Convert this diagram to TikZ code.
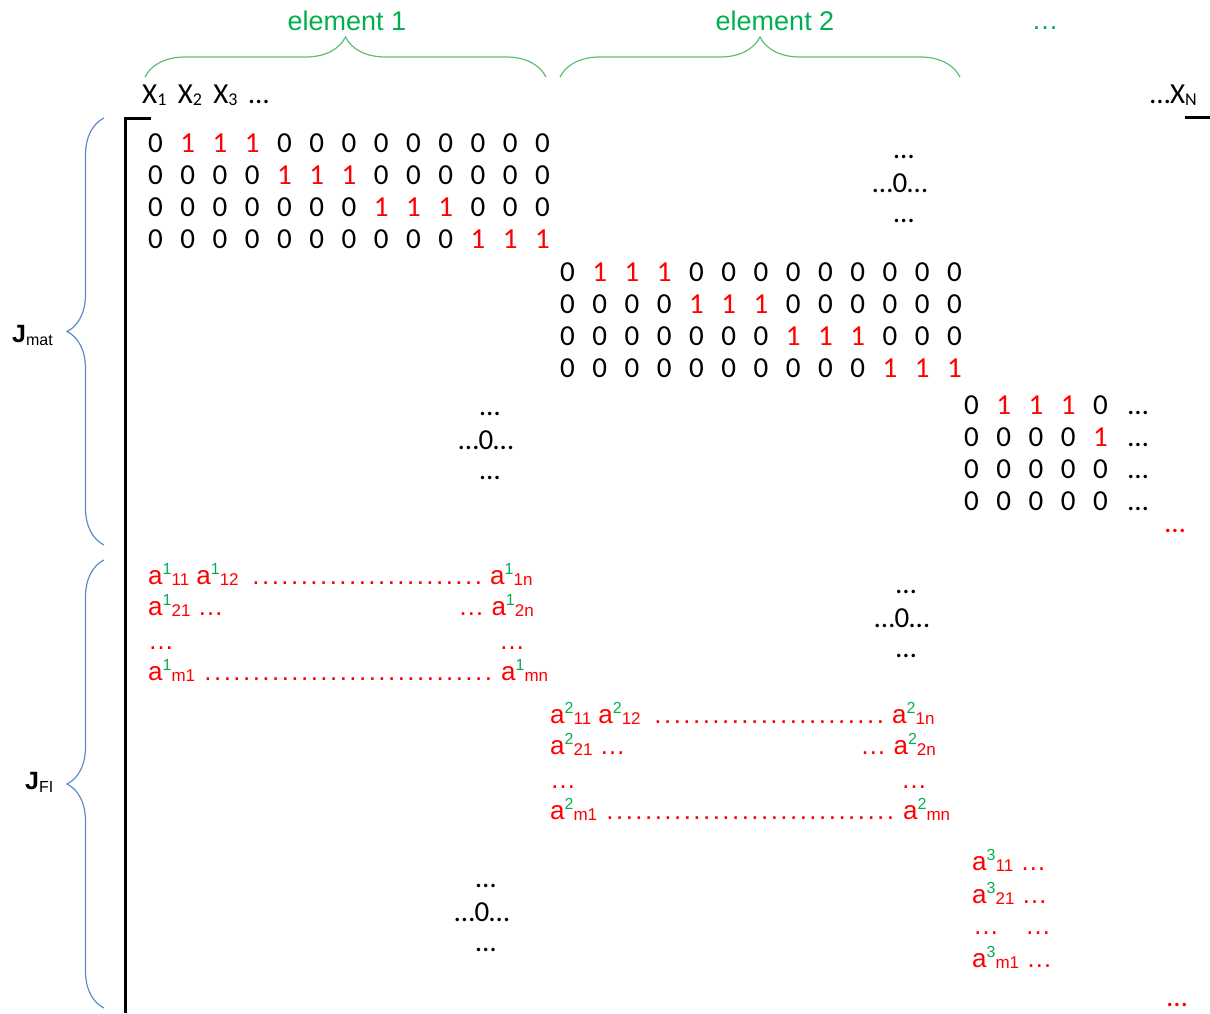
\documentclass[tikz,border=0pt]{standalone}
\usepackage{fontspec}
\setmainfont{Liberation Sans}
\newfontfamily\calib{Carlito}
\usetikzlibrary{decorations.pathreplacing}
\definecolor{onered}{RGB}{255,0,0}
\definecolor{elgreen}{RGB}{0,176,80}
\definecolor{bracegreen}{RGB}{96,190,112}
\definecolor{braceblue}{RGB}{96,138,200}
% a entry: green element index up, red position index down
\newcommand{\aij}[2]{a{\fontsize{16}{16}\selectfont\raisebox{10pt}{\textcolor{elgreen}{#1}}\fontsize{17}{17}\selectfont\raisebox{-1.5pt}{#2}}}
\newcommand{\xsub}[1]{X{\fontsize{18}{18}\selectfont\raisebox{-2.5pt}{#1}}}
\newcommand{\dotrun}[1]{\hbox to #1{\xleaders\hbox to 9.6pt{\hss.\hss}\hfill}}

\begin{document}
\begin{tikzpicture}[
            x=1pt, y=-1pt,
            dig/.style={font=\calib\fontsize{29}{29}\selectfont, anchor=base, inner sep=0pt},
            aent/.style={font=\fontsize{26}{26}\selectfont, text=onered, anchor=base west, inner sep=0pt},
            elabel/.style={font=\fontsize{27}{27}\selectfont, text=elgreen, anchor=base, inner sep=0pt},
            jlabel/.style={anchor=base west, inner sep=0pt},
            hbrace/.style={decorate, decoration={brace, amplitude=40pt}, draw=bracegreen, line width=1.2pt},
            vbrace/.style={decorate, decoration={brace, amplitude=37pt}, draw=braceblue, line width=1.2pt},
            axisline/.style={line width=3pt, line join=miter}
        ]
            \useasboundingbox (0,0) rectangle (1210,1013);

            % element headers
            \node[elabel] (el1) at (347,30) {element 1};
            \node[elabel] (el2) at (775,30) {element 2};
            \node[elabel] (elmore) at (1045,29) {…};
            \draw[hbrace] (145,77) -- (546,77);
            \draw[hbrace] (560,77) -- (960,77);

            % variables and axis
            \node[dig, anchor=base west] (xfirst) at (142,103) {\xsub{1}\, \xsub{2}\, \xsub{3}\, …};
            \node[dig, anchor=base east] (xlast) at (1197,103) {…\xsub{N}};
            \coordinate (axtop) at (125,118);
            \coordinate (axbot) at (125,1013);
            \draw[axisline] (151,118) -- (axtop) -- (axbot);
            \draw[axisline] (1185,117) -- (1210,117);

            % row groups
            \draw[vbrace] (104,545) -- (104,118);
            \draw[vbrace] (104,1008) -- (104,560);
            \node[jlabel] (jmat) at (12,342) {{\fontsize{25}{25}\selectfont\bfseries J}{\fontsize{16}{16}\selectfont\raisebox{-3pt}{mat}}};
            \node[jlabel] (jfi) at (25,789) {{\fontsize{25}{25}\selectfont\bfseries J}{\fontsize{16}{16}\selectfont\raisebox{-3pt}{FI}}};

            % material blocks
            \foreach \bx/\by/\bn/\nc in {155.5/152/b1/13, 567.5/281/b2/13, 971.5/414/b3/5}{
              \foreach \r in {1,...,4}{
                \foreach \c in {1,...,\nc}{
                  \pgfmathtruncatemacro{\isone}{and(\c>=3*\r-1,\c<=3*\r+1)}
                  \ifnum\isone=1 \def\dcol{onered}\def\dval{1}\else\def\dcol{black}\def\dval{0}\fi
                  \node[dig, text=\dcol] (\bn-\r-\c) at ({\bx+32.25*(\c-1)},{\by+32.1*(\r-1)}) {\dval};
                }
              }
            }
            \foreach \r in {1,...,4}
              \node[dig] (b3-more-\r) at (1138,{414+32.1*(\r-1)}) {…};
            \node[dig, text=onered] (b3-more) at (1175,532) {…};

            % zero fill
            \foreach \zx/\zy/\zn in {900/192/z1, 486/449/z2, 902/627/z3, 482/921/z4}{
              \node[dig] (\zn-mid) at (\zx,\zy) {…0…};
              \node[dig] (\zn-top) at (\zx+4,\zy-34) {…};
              \node[dig] (\zn-bot) at (\zx+4,\zy+30) {…};
            }

            % FI blocks
            \foreach \ox/\oy/\k/\bn in {148/584/1/f1, 550/723/2/f2}{
              \node[aent] (\bn-r1l) at (\ox,\oy) {\aij{\k}{11} \aij{\k}{12}};
              \node[aent] (\bn-r1d) at (\ox+103,\oy) {\dotrun{232pt}};
              \node[aent] (\bn-r1r) at (\ox+342,\oy) {\aij{\k}{1n}};
              \node[aent] (\bn-r2l) at (\ox,\oy+31) {\aij{\k}{21} …};
              \node[aent, anchor=base east] (\bn-r2r) at (\ox+386,\oy+31) {… \aij{\k}{2n}};
              \node[aent] (\bn-r3l) at (\ox,\oy+65) {…};
              \node[aent] (\bn-r3r) at (\ox+351,\oy+65) {…};
              \node[aent] (\bn-r4l) at (\ox,\oy+96) {\aij{\k}{m1}};
              \node[aent] (\bn-r4d) at (\ox+55,\oy+96) {\dotrun{290pt}};
              \node[aent] (\bn-r4r) at (\ox+353,\oy+96) {\aij{\k}{mn}};
            }
            \node[aent] (f3-r1) at (972,870) {\aij{3}{11} …};
            \node[aent] (f3-r2) at (972,903) {\aij{3}{21} …};
            \node[aent] (f3-r3l) at (973,934) {…};
            \node[aent] (f3-r3r) at (1025,934) {…};
            \node[aent] (f3-r4) at (972,967) {\aij{3}{m1} …};
            \node[dig, text=onered] (f3-more) at (1177,1006) {…};
        \end{tikzpicture}
\end{document}
